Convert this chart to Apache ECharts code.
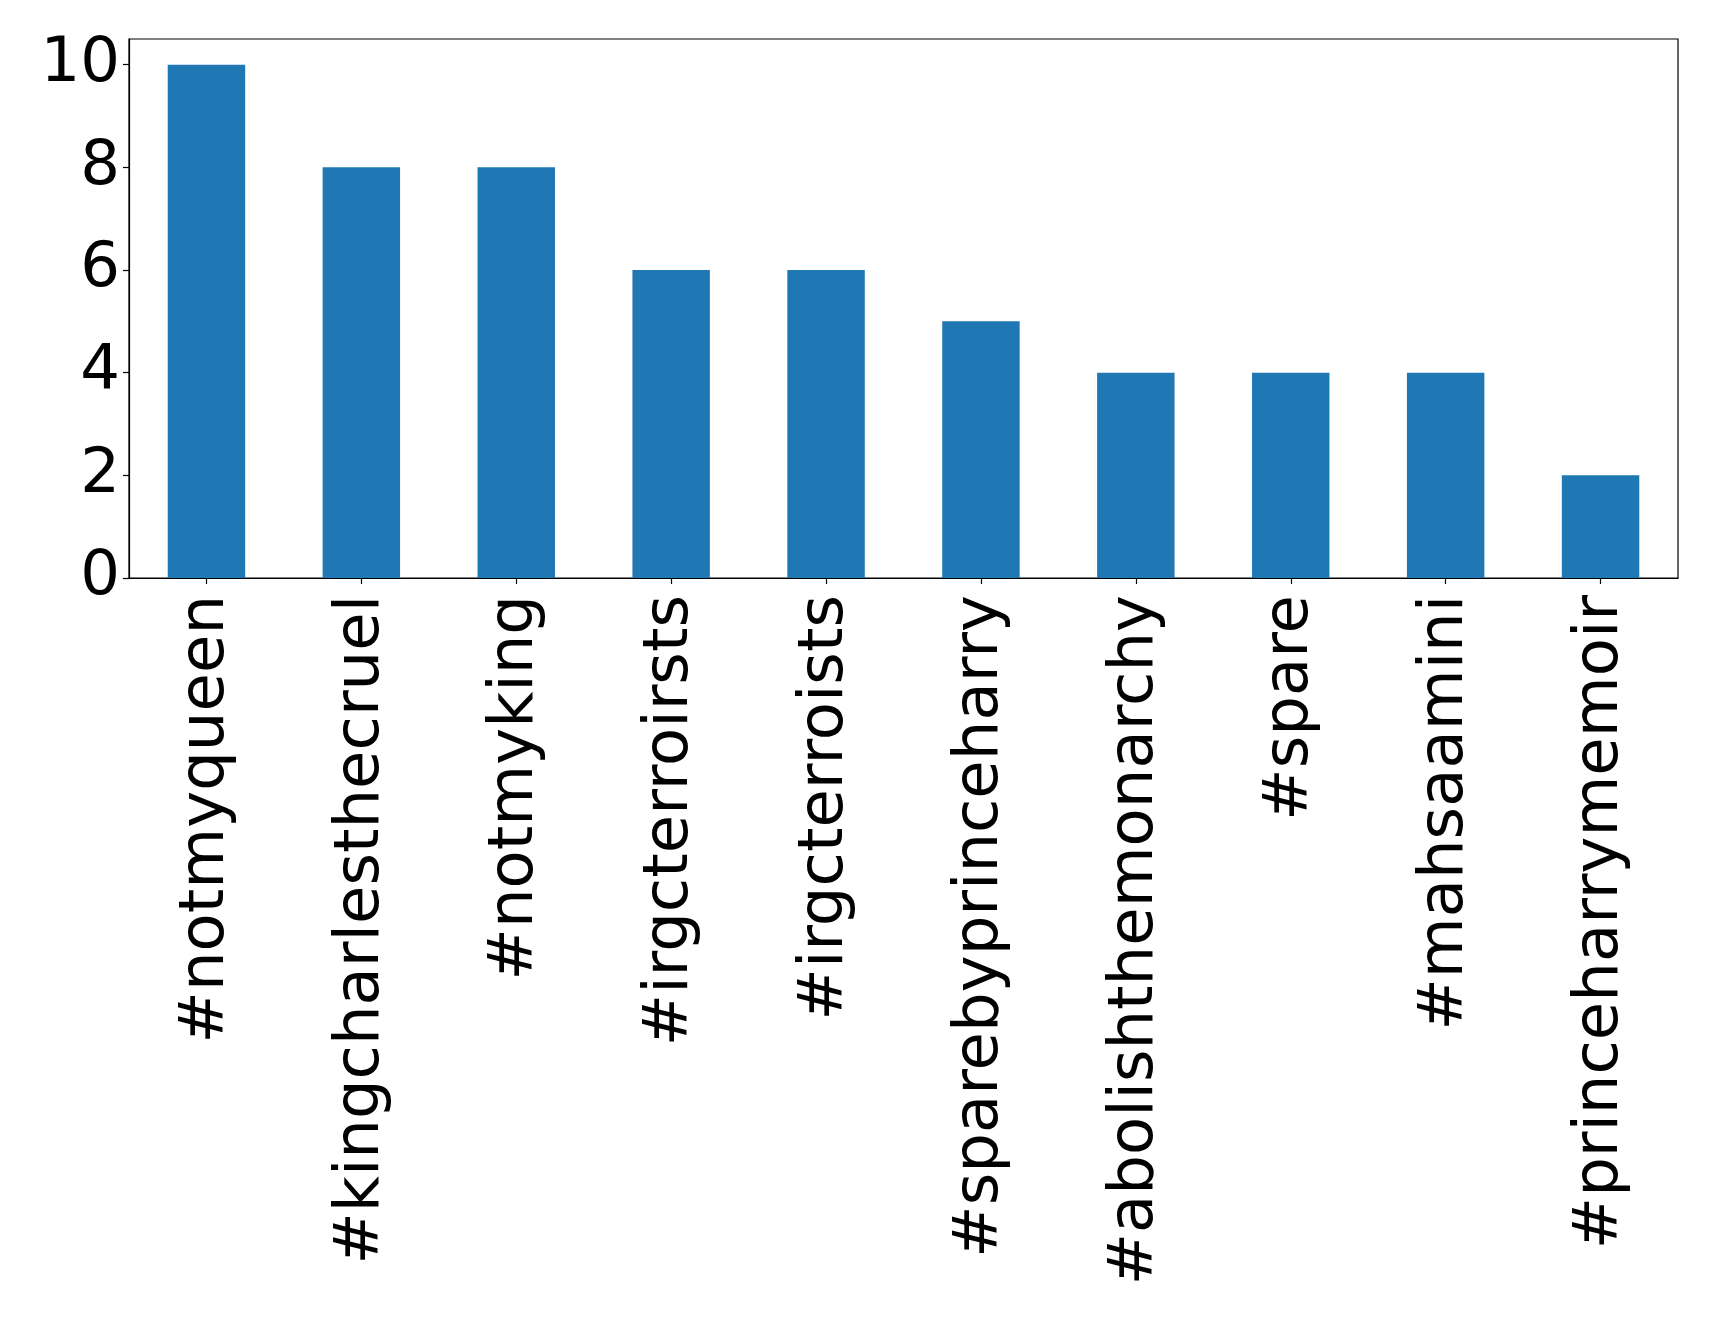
<!DOCTYPE html>
<html>
<head>
<meta charset="utf-8">
<script src="https://cdn.jsdelivr.net/npm/echarts@6/dist/echarts.min.js"></script>
<style>
html,body{margin:0;padding:0;background:#fff;}
#chart{width:1719px;height:1318px;}
</style>
</head>
<body>
<div id="chart"></div>
<script>
const categories = ['#notmyqueen','#kingcharlesthecruel','#notmyking','#irgcterroirsts','#irgcterroists','#sparebyprinceharry','#abolishthemonarchy','#spare','#mahsaamini','#princeharrymemoir'];
const counts = [10, 8, 8, 6, 6, 5, 4, 4, 4, 2];
const yTicks = [0, 2, 4, 6, 8, 10];

const chart = echarts.init(document.getElementById('chart'), null, {renderer: 'canvas'});
chart.setOption({
  animation: false,
  backgroundColor: '#ffffff',
  textStyle: {fontFamily: 'DejaVu Sans'},
  grid: {left: 129, right: 41, top: 39, bottom: 740, show: true, borderColor: '#000', borderWidth: 1.2, containLabel: false},
  xAxis: {
    type: 'category',
    data: categories,
    boundaryGap: true,
    axisLine: {show: true, lineStyle: {color: '#000', width: 1.2}},
    axisTick: {show: true, alignWithLabel: true, length: 6, lineStyle: {color: '#000', width: 1.2}},
    axisLabel: {rotate: 90, interval: 0, margin: 17, color: '#000', fontSize: 62.5, fontFamily: 'DejaVu Sans'},
    splitLine: {show: false}
  },
  yAxis: {
    type: 'value',
    min: 0, max: 10.5, interval: 2,
    axisLine: {show: true, lineStyle: {color: '#000', width: 1.2}},
    axisTick: {show: true, length: 6, lineStyle: {color: '#000', width: 1.2}, customValues: yTicks},
    axisLabel: {margin: 9, color: '#000', fontSize: 62.5, fontFamily: 'DejaVu Sans', customValues: yTicks},
    splitLine: {show: false}
  },
  series: [{
    type: 'bar',
    data: counts,
    barWidth: '50%',
    itemStyle: {color: '#1f77b4'}
  }]
});
</script>
</body>
</html>
